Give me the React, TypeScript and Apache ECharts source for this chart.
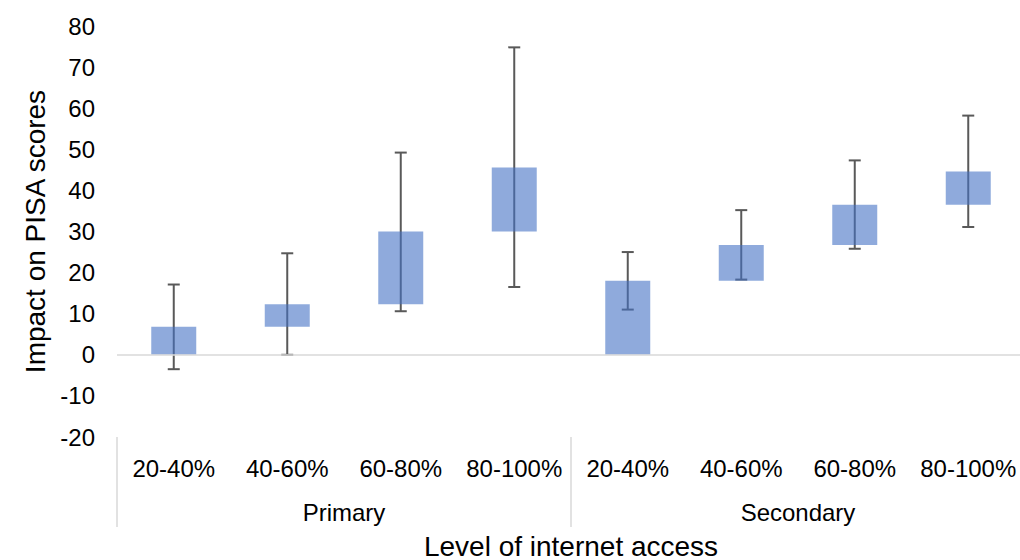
import React, { useEffect, useRef } from "react";
import * as echarts from "echarts";

const levels = ["20-40%", "40-60%", "60-80%", "80-100%", "20-40%", "40-60%", "60-80%", "80-100%"];
const groups = ["Primary", "Secondary"];
const barLow = [0, 6.8, 12.3, 30.0, 0, 18.0, 26.7, 36.5];
const barHigh = [6.8, 12.3, 30.0, 45.6, 18.0, 26.7, 36.5, 44.6];
const errLow = [-3.5, 0, 10.6, 16.5, 11.0, 18.3, 25.8, 31.1];
const errHigh = [17.1, 24.7, 49.2, 74.8, 25.0, 35.2, 47.3, 58.2];
const yMin = -20;
const yMax = 80;
const yStep = 10;
const yTitle = "Impact on PISA scores";
const xTitle = "Level of internet access";

const FONT = '"Liberation Sans", Arial, sans-serif';

export default function App() {
  const ref = useRef<HTMLDivElement>(null);
  useEffect(() => {
    if (!ref.current) return;
    const chart = echarts.init(ref.current, undefined, { renderer: "svg" });
    const idx = levels.map((_, i) => String(i));
    const option: any = {
      animation: false,
      textStyle: { fontFamily: FONT },
      grid: {
        left: 117,
        top: 26,
        width: 908,
        height: 411,
        containLabel: false,
        outerBoundsMode: "none",
      },
      xAxis: [
        {
          type: "category",
          data: idx,
          position: "bottom",
          axisLine: { show: false, onZero: false },
          axisTick: { show: false },
          axisLabel: {
            margin: 19,
            fontSize: 24,
            color: "#000",
            fontFamily: FONT,
            interval: 0,
            formatter: (_v: string, i: number) => levels[i],
          },
          splitLine: { show: false },
        },
        {
          type: "category",
          data: groups,
          position: "bottom",
          axisLine: { show: false, onZero: false },
          axisTick: { show: true, length: 90, lineStyle: { color: "#d9d9d9", width: 1.5 } },
          axisLabel: { margin: 63, fontSize: 24, color: "#000", fontFamily: FONT, interval: 0 },
          splitLine: { show: false },
          name: xTitle,
          nameLocation: "middle",
          nameGap: 95,
          nameTextStyle: { fontSize: 28, color: "#000", fontFamily: FONT },
        },
      ],
      yAxis: {
        type: "value",
        min: yMin,
        max: yMax,
        interval: yStep,
        axisLine: { show: false },
        axisTick: { show: false },
        splitLine: { show: false },
        axisLabel: { margin: 22, fontSize: 24, color: "#000", fontFamily: FONT },
        name: yTitle,
        nameLocation: "middle",
        nameGap: 65,
        nameRotate: 90,
        nameTextStyle: { fontSize: 28, color: "#000", fontFamily: FONT },
      },
      series: [
        {
          type: "custom",
          xAxisIndex: 0,
          z: 1,
          encode: { x: 0, y: [1, 2] },
          data: errLow.map((l, i) => [i, l, errHigh[i]]),
          renderItem: (_params: any, api: any) => {
            const x = api.value(0);
            const pLo = api.coord([x, api.value(1)]);
            const pHi = api.coord([x, api.value(2)]);
            const hw = 6;
            const style = { stroke: "#595959", lineWidth: 2 };
            return {
              type: "group",
              children: [
                { type: "line", shape: { x1: pHi[0], y1: pHi[1], x2: pLo[0], y2: pLo[1] }, style },
                { type: "line", shape: { x1: pHi[0] - hw, y1: pHi[1], x2: pHi[0] + hw, y2: pHi[1] }, style },
                { type: "line", shape: { x1: pLo[0] - hw, y1: pLo[1], x2: pLo[0] + hw, y2: pLo[1] }, style },
              ],
            };
          },
        },
        {
          type: "bar",
          xAxisIndex: 0,
          stack: "w",
          z: 2,
          barWidth: 45,
          itemStyle: { color: "rgba(0,0,0,0)" },
          data: barLow,
          markLine: {
            silent: true,
            symbol: ["none", "none"],
            label: { show: false },
            lineStyle: { color: "#d9d9d9", width: 1.5, type: "solid" },
            data: [{ yAxis: 0 }],
          },
        },
        {
          type: "bar",
          xAxisIndex: 0,
          stack: "w",
          z: 3,
          barWidth: 45,
          itemStyle: { color: "rgba(68,114,196,0.6)" },
          data: barHigh.map((h, i) => +(h - barLow[i]).toFixed(2)),
        },
      ],
    };
    chart.setOption(option);
    return () => chart.dispose();
  }, []);
  return (
    <div
      ref={ref}
      style={{ position: "fixed", left: 0, top: 0, width: 1020, height: 560, background: "#fff" }}
    />
  );
}
